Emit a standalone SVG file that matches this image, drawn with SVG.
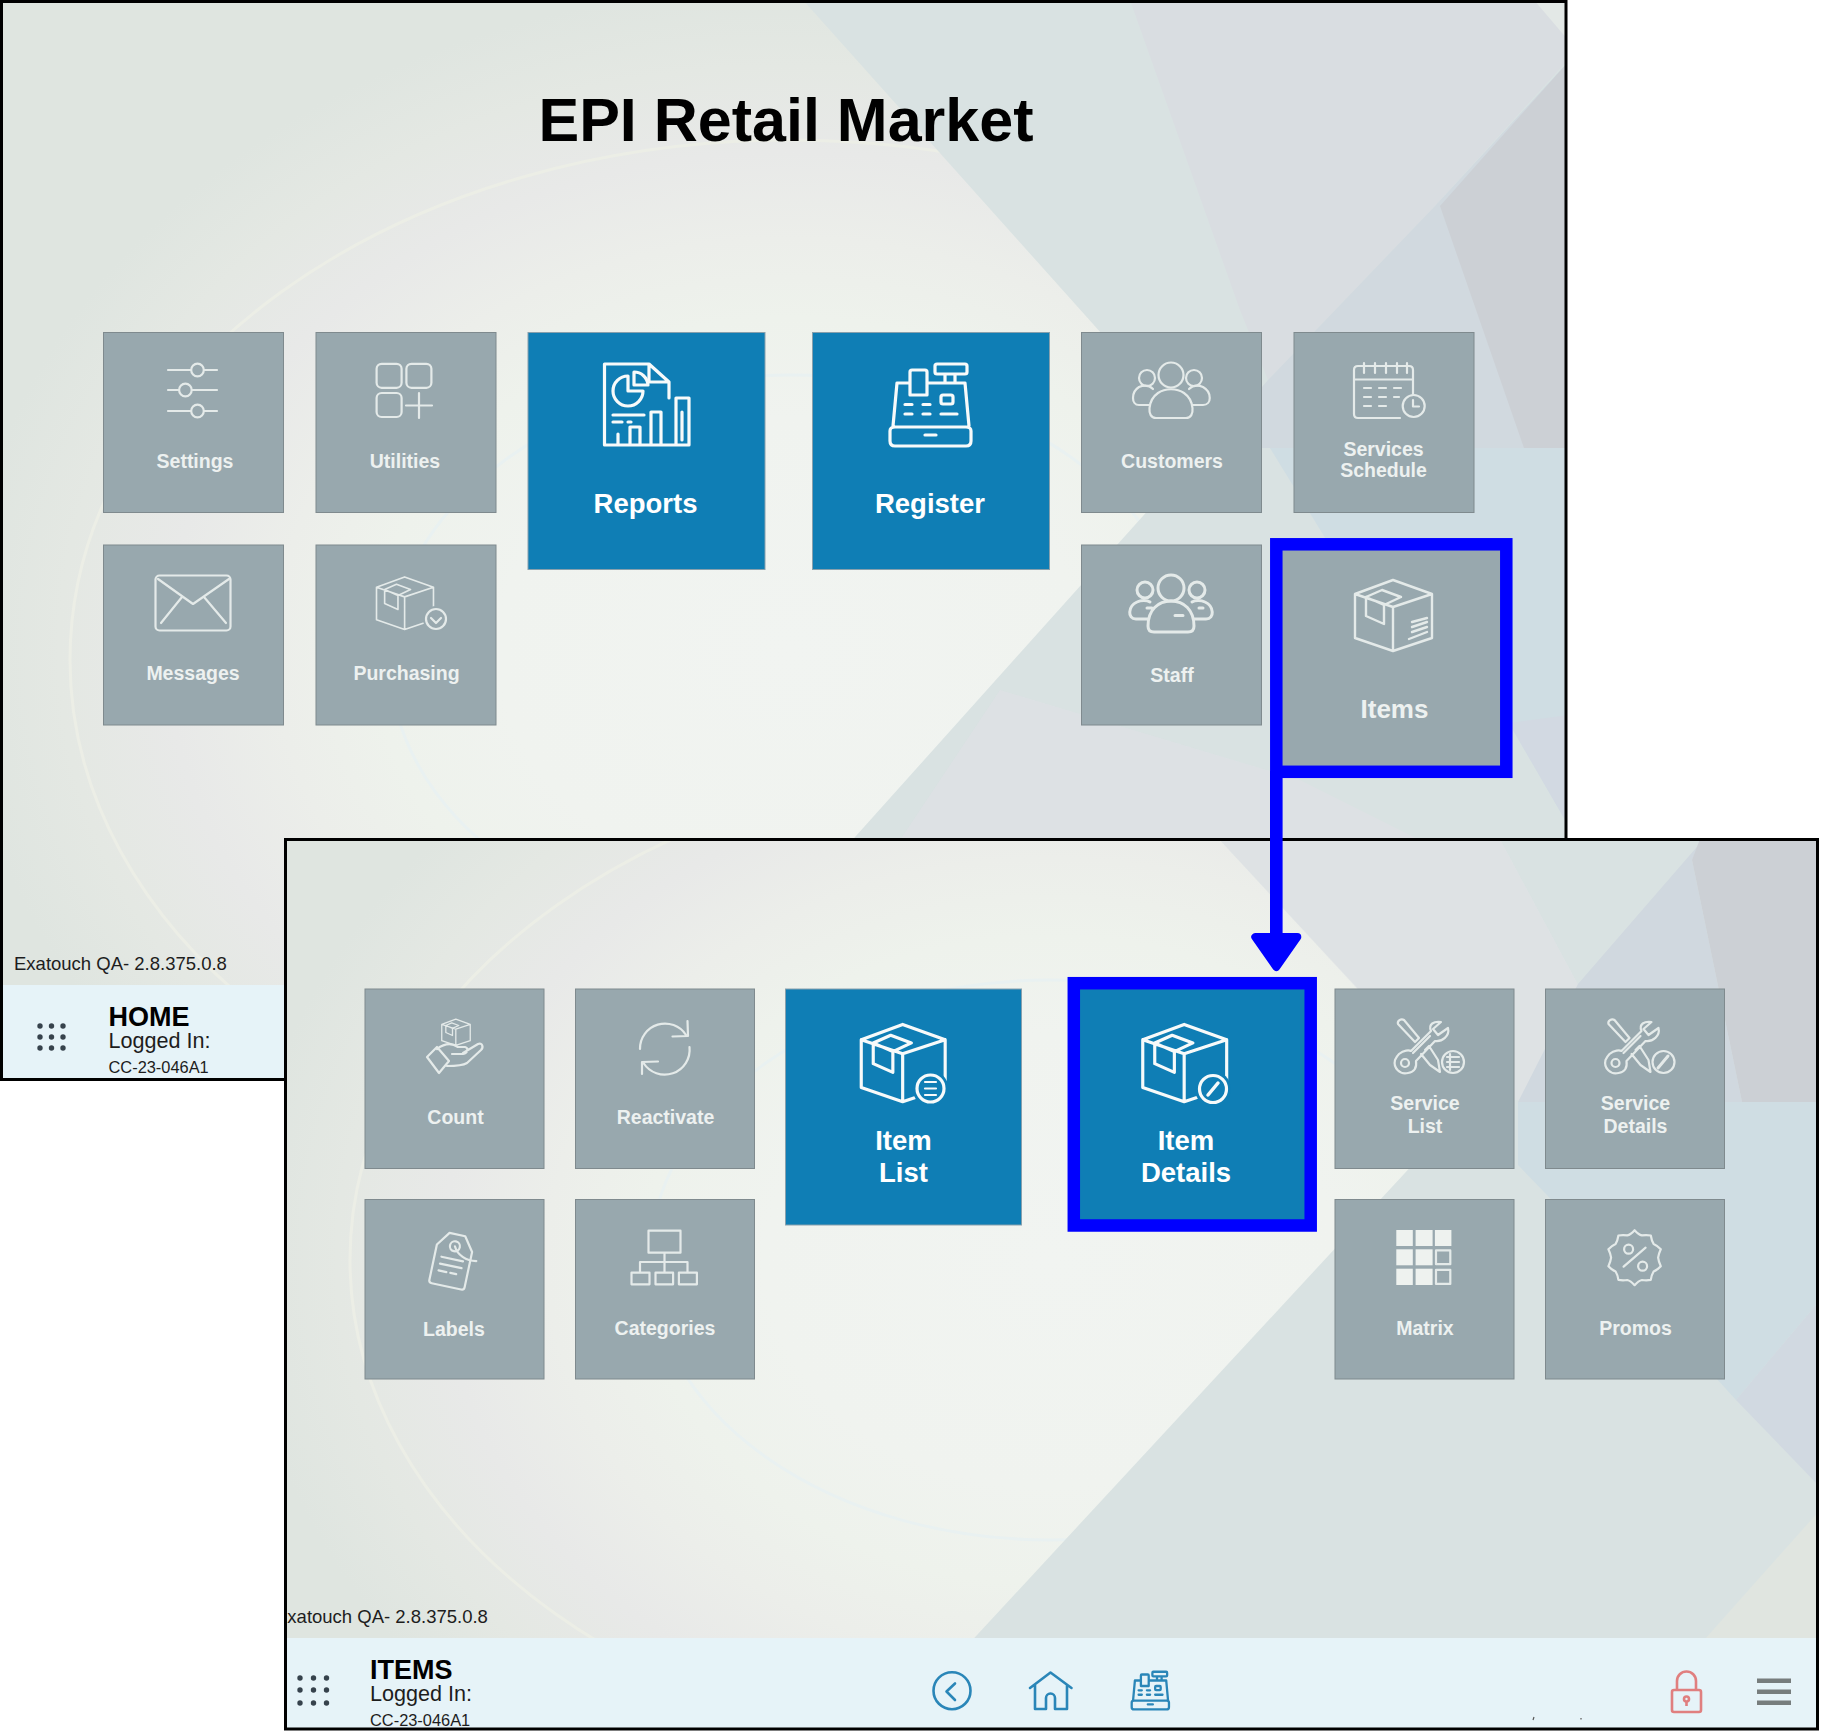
<svg xmlns="http://www.w3.org/2000/svg" width="1822" height="1734" viewBox="0 0 1822 1734">
<style>
text{font-family:"Liberation Sans",Arial,sans-serif}
.g{fill:#98a8ae;stroke:#7f8a8e;stroke-width:1}
.b{fill:#0f7eb5;stroke:#87a0ad;stroke-width:1}
.t{font-weight:700;font-size:19.5px;text-anchor:middle;fill:#edf1f0}
.tb{font-weight:700;font-size:27.5px;text-anchor:middle;fill:#fff}
.ic{fill:none;stroke:#e4eae9;stroke-width:2.2;stroke-linecap:round;stroke-linejoin:round}
.iw{fill:none;stroke:#f7fafa;stroke-width:3.2;stroke-linecap:round;stroke-linejoin:round}
.nav{fill:none;stroke:#2a86b8;stroke-width:2.6;stroke-linecap:round;stroke-linejoin:round}
.frame{fill:none;stroke:#000;stroke-width:3}
.hl{fill:none;stroke:#0000ff;stroke-width:12.5}
.dot{fill:#36424c}
.h{font-weight:700;font-size:27px;fill:#000}
.l{font-size:21.6px;fill:#1d1d1d}
.c{font-size:16.4px;fill:#1d1d1d}
.v{font-size:18.5px;fill:#1d1d1d}
.ring{fill:none;stroke:#e9f1f1;stroke-width:3}
</style>
<defs>
<radialGradient id="bg1" gradientUnits="userSpaceOnUse" cx="790" cy="650" r="830" gradientTransform="translate(0 130) scale(1 .8)">
<stop offset="0" stop-color="#f1f4f1"/><stop offset=".35" stop-color="#f0f3ef"/><stop offset=".5" stop-color="#eef2ec"/><stop offset=".62" stop-color="#eceeea"/><stop offset=".75" stop-color="#e8e9e8"/><stop offset=".88" stop-color="#e4e8e3"/><stop offset="1" stop-color="#dfe5e0"/>
</radialGradient>
<radialGradient id="bg2" gradientUnits="userSpaceOnUse" cx="1050" cy="1260" r="810" gradientTransform="translate(0 252) scale(1 .8)">
<stop offset="0" stop-color="#f1f4f1"/><stop offset=".35" stop-color="#f0f3ef"/><stop offset=".5" stop-color="#eef2ec"/><stop offset=".62" stop-color="#eceeea"/><stop offset=".75" stop-color="#e8e9e8"/><stop offset=".88" stop-color="#e4e8e3"/><stop offset="1" stop-color="#dfe5e0"/>
</radialGradient>
<clipPath id="c1"><rect x="0" y="0" width="1567" height="1080"/></clipPath>
<clipPath id="c2"><rect x="285" y="839" width="1533" height="890"/></clipPath>
<marker id="arr" markerUnits="userSpaceOnUse" markerWidth="60" markerHeight="60" viewBox="0 0 60 60" refX="4" refY="30" orient="auto">
<path d="M4,9 L34,30 L4,51 Z" fill="#0000ff" stroke="#0000ff" stroke-width="8" stroke-linejoin="round"/>
</marker>
<symbol id="box" overflow="visible" viewBox="0 0 130 100" width="130" height="100">
<path d="M63,10 L102,24 V68 L63,81 L25,68 V24 Z M25,24 L63,37 L102,24 M63,37 V81 M36,27 V46 L54,54 V35 M36,27 L52,20 L71,27 L54,35 Z"/>
</symbol>
<symbol id="reg" overflow="visible" viewBox="0 0 120 110" width="120" height="110">
<path d="M25,96 H96 Q101,96 101,91 V81 Q101,77 96,77 H25 Q20,77 20,81 V91 Q20,96 25,96 Z M23,76 L27,33 H40 M57,33 H95 L99,76 M42,20 H55 Q57,20 57,22 V45 H40 V22 Q40,20 42,20 Z M67,14 H95 Q97,14 97,16 V22 Q97,24 95,24 H67 Q65,24 65,22 V16 Q65,14 67,14 Z M75,24 V33 M85,24 V33 M73,45 H81 Q83,45 83,47 V52 Q83,54 81,54 H73 Q71,54 71,52 V47 Q71,45 73,45 Z M35,54.5 H42 M53,54.5 H60 M35,64 H42 M53,64 H60 M71,64 H87 M55,85 H66"/>
</symbol>
<symbol id="tools" overflow="visible" viewBox="0 0 110 90" width="110" height="90">
<path d="M19,54 C24,50 29,50 31,51 L51,31 C48,24 54,21 61,22 L53,29 L58,35 L68,28 C70,36 62,42 55,41 L36,61 C37,68 34,72 28,73 C20,75 13,68 15,60 C16,58 17,56 19,54 Z M33,53 L50,36 M18,24 C17,21 21,18 24,20 L39,38 L35,42 Z M45,50 L49,46 L58,60 L60,72 L50,65 L41,54"/>
<circle cx="25" cy="63" r="4"/>
<circle cx="73" cy="62" r="11"/>
</symbol>
</defs>

<g id="screen-home" clip-path="url(#c1)">
<rect x="0" y="0" width="1567" height="1080" fill="url(#bg1)"/>
<ellipse class="ring" cx="790" cy="660" rx="400" ry="285"/>
<ellipse class="ring" cx="790" cy="660" rx="720" ry="520" style="stroke:#eceee6"/>
<polygon points="803,0 1568,0 1568,1080 637,1080 1204,448" fill="#d9e2e2"/>
<polygon points="1130,0 1568,0 1568,60 1435,206 1268,380 1240,310" fill="#d9dde1"/>
<polygon points="1568,62 1435,206 1268,380 1210,448 1524,448" fill="#d1d9df"/>
<polygon points="1568,62 1440,206 1524,448 1568,448" fill="#ccd0d5"/>
<polygon points="1534,0 1568,0 1568,40" fill="#e3e8e6"/>
<polygon points="1270,448 1568,448 1568,825 1509,723 1400,660" fill="#cfdde3"/>
<polygon points="1509,723 1568,825 1568,715" fill="#d2d9e2"/>
<polygon points="1000,690 1300,780 1420,840 900,840" fill="#dee1e5" opacity=".7"/>
<rect x="0" y="985" width="285" height="95" fill="#e6f3f8"/>
<text x="14" y="970" class="v">Exatouch QA- 2.8.375.0.8</text>
<g class="dot"><circle cx="40" cy="1026" r="2.7"/><circle cx="51.5" cy="1026" r="2.7"/><circle cx="63" cy="1026" r="2.7"/><circle cx="40" cy="1037" r="2.7"/><circle cx="51.5" cy="1037" r="2.7"/><circle cx="63" cy="1037" r="2.7"/><circle cx="40" cy="1048" r="2.7"/><circle cx="51.5" cy="1048" r="2.7"/><circle cx="63" cy="1048" r="2.7"/></g>
<text x="108.500" y="1026" class="h">HOME</text>
<text x="108.500" y="1048" class="l">Logged In:</text>
<text x="108.500" y="1073" class="c">CC-23-046A1</text>
<text x="786" y="141" font-size="61" font-weight="700" text-anchor="middle" fill="#000">EPI Retail Market</text>
</g>
<rect class="frame" x="1.5" y="1.5" width="1564.5" height="1078"/>

<g id="settings"><rect class="g" x="103.5" y="332.5" width="180" height="180"/>
<g class="ic"><path d="M168,370 H191 M204,370 H217 M168,390 H179 M192,390 H217 M168,411 H191 M204,411 H217"/><circle cx="197.5" cy="370" r="6.3"/><circle cx="185.4" cy="390" r="6.3"/><circle cx="197.5" cy="411" r="6.3"/></g>
<text x="195" y="467.500" class="t">Settings</text></g>

<g id="utilities"><rect class="g" x="316" y="332.5" width="180" height="180"/>
<g class="ic"><rect x="376.6" y="363.8" width="25" height="24" rx="5"/><rect x="406.4" y="363.8" width="25" height="24" rx="5"/><rect x="376.6" y="393" width="25" height="24" rx="5"/><path d="M406,405.5 H432 M419,393 V418"/></g>
<text x="405" y="467.500" class="t">Utilities</text></g>

<g id="reports"><rect class="b" x="528" y="332.5" width="237" height="237"/>
<g class="iw"><path d="M669,398 V382 L649,364 H604.5 V445 H689 V398 H676 V445 M649,364 V382 H669 M661,445 V412 H651 V445 M640,445 V427 H630 V445 M618,445 V434"/><path d="M628,376 A15,15 0 1 0 643,391 H628 Z M634,372 A14,14 0 0 1 648,385 H634 Z"/><path d="M613,415 H644 M613,422 H622 M628,422 H631"/><path d="M682,412 V440"/></g>
<text x="645.500" y="512.500" class="tb">Reports</text></g>

<g id="register"><rect class="b" x="812.5" y="332.5" width="237" height="237"/>
<use href="#reg" x="870" y="350" class="iw"/>
<text x="930" y="512.500" class="tb">Register</text></g>

<g id="customers"><rect class="g" x="1081.500" y="332.5" width="180" height="180"/>
<g class="ic"><circle cx="1171" cy="375" r="12.500"/><circle cx="1147" cy="378" r="8"/><circle cx="1194" cy="378" r="8"/><path d="M1156,418 H1186 C1196,418 1194,400 1184,393 C1177,388 1165,388 1158,393 C1148,400 1146,418 1156,418 Z M1149,405 H1139 C1131,405 1131,392 1139,387 C1144,385 1149,385 1153,389 M1193,405 H1203 C1212,405 1212,392 1203,387 C1198,385 1193,385 1189,389"/></g>
<text x="1172" y="467.500" class="t">Customers</text></g>

<g id="services-schedule"><rect class="g" x="1294" y="332.5" width="180" height="180"/>
<g class="ic"><path d="M1400,418 H1358 Q1354,418 1354,414 V370 Q1354,366 1358,366 H1409 Q1413,366 1413,370 V394 M1354,379.500 H1413 M1364,363 V373 M1375,363 V373 M1386,363 V373 M1397,363 V373 M1407,363 V373 M1364,388 H1371 M1379,388 H1386 M1394,388 H1401 M1364,397 H1371 M1379,397 H1386 M1394,397 H1399 M1364,406 H1371 M1379,406 H1386"/><circle cx="1413.700" cy="406" r="11"/><path d="M1413,400 V406.500 H1419"/></g>
<text x="1383.500" y="456" class="t">Services</text><text x="1383.500" y="477" class="t">Schedule</text></g>

<g id="messages"><rect class="g" x="103.5" y="545" width="180" height="180"/>
<g class="ic"><rect x="155.500" y="575.500" width="75" height="55" rx="4"/><path d="M158,579 L193,604 L229,579 M161,623 L182,597 M226,623 L204,597"/></g>
<text x="193" y="680" class="t">Messages</text></g>

<g id="purchasing"><rect class="g" x="316" y="545" width="180" height="180"/>
<use href="#box" transform="translate(358 569.500) scale(.74)" class="ic"/>
<circle cx="436" cy="619" r="13" fill="#98a8ae"/><g class="ic"><circle cx="436" cy="619" r="10"/><path d="M431,618 L436,623 L441,618"/></g>
<text x="406.500" y="680" class="t">Purchasing</text></g>

<g id="staff"><rect class="g" x="1081.500" y="545" width="180" height="180"/>
<g class="ic" style="stroke-width:3"><circle cx="1171" cy="588" r="13"/><circle cx="1145" cy="590" r="8"/><circle cx="1197" cy="590" r="8"/><path d="M1154,632 H1188 Q1194,632 1194,626 C1194,610 1184,601 1171,601 C1158,601 1148,610 1148,626 Q1148,632 1154,632 Z M1148,619 H1136 C1127,619 1128,606 1137,602 C1141,600 1147,600 1150,602 M1194,619 H1206 C1215,619 1214,606 1205,602 C1201,600 1195,600 1192,602 M1175,615.500 H1183 M1147,608 H1152 M1199,608 H1203"/></g>
<text x="1172" y="681.500" class="t">Staff</text></g>

<g id="items"><rect class="g" x="1276" y="544.500" width="230" height="227"/>
<g class="ic" style="stroke-width:2.400"><use href="#box" x="1330" y="570"/><path d="M1412,622 L1427,618 M1412,627 L1427,622 M1412,632 L1427,627 M1409,639 L1427,632"/></g>
<text x="1394.500" y="718" font-size="26" font-weight="700" text-anchor="middle" fill="#edf1f0">Items</text></g>

<g id="screen-items" clip-path="url(#c2)">
<rect x="285" y="839" width="1535" height="891" fill="url(#bg2)"/>
<ellipse class="ring" cx="1050" cy="1260" rx="400" ry="280"/>
<ellipse class="ring" cx="1050" cy="1260" rx="700" ry="500" style="stroke:#eceee6"/>
<polygon points="1219,839 1820,839 1820,1730 889,1730 1467,1106" fill="#d9e2e2"/>
<polygon points="1219,839 1500,839 1640,1100 1460,1100" fill="#dfe3e6" opacity=".7"/>
<polygon points="1702,841 1578,984 1518,1102 1742,1102 1692,860" fill="#d0d8df"/>
<polygon points="1700,839 1820,839 1820,1102 1742,1102 1692,860" fill="#ccd0d5"/>
<polygon points="1518,1102 1820,1102 1820,1300 1736,1400 1600,1250 1518,1165" fill="#cfdde3"/>
<polygon points="1736,1400 1820,1300 1820,1487" fill="#d1d9e1"/>
<polygon points="1705,1639 1820,1510 1820,1639" fill="#e0e5e0"/>
<rect x="285" y="1638" width="1535" height="92" fill="#e6f3f8"/>
<text x="275" y="1623" class="v">Exatouch QA- 2.8.375.0.8</text>
<g class="dot"><circle cx="300" cy="1678" r="2.7"/><circle cx="313.500" cy="1678" r="2.7"/><circle cx="326.500" cy="1678" r="2.7"/><circle cx="300" cy="1690" r="2.7"/><circle cx="313.500" cy="1690" r="2.7"/><circle cx="326.500" cy="1690" r="2.7"/><circle cx="300" cy="1703" r="2.7"/><circle cx="313.500" cy="1703" r="2.7"/><circle cx="326.500" cy="1703" r="2.7"/></g>
<text x="370" y="1679" class="h">ITEMS</text>
<text x="370" y="1701" class="l">Logged In:</text>
<text x="370" y="1726" class="c">CC-23-046A1</text>
<g id="nav-back" class="nav"><circle cx="952" cy="1690.700" r="18.500"/><path d="M955,1683.500 L946.500,1691.500 L955,1700"/></g>
<g id="nav-home" class="nav"><path d="M1030,1688 L1050.500,1672.500 L1071.500,1688 M1035,1685 V1709 H1046 V1698 A4.500,4.500 0 0 1 1055,1698 V1709 H1067 V1685"/></g>
<use id="nav-register" href="#reg" transform="translate(1122.500 1665.300) scale(.46)" class="nav" style="stroke-width:5"/>
<g id="nav-lock" fill="none" stroke="#e07f7f" stroke-width="2.600"><rect x="1672" y="1690" width="29" height="22" rx="2"/><path d="M1677,1690 V1681 A9.500,9.500 0 0 1 1696,1681 V1690"/><circle cx="1686.500" cy="1699" r="2.500"/><path d="M1686.500,1701 V1706"/></g>
<g id="nav-menu" fill="#777d7d"><rect x="1757" y="1678.500" width="34" height="4.500"/><rect x="1757" y="1689.500" width="34" height="4.500"/><rect x="1757" y="1700.500" width="34" height="4.500"/></g>
<path d="M1534,1717 L1533,1720 M1581,1718 V1719.500" stroke="#555" stroke-width="1.200"/>
</g>
<rect class="frame" x="285.500" y="839.500" width="1532" height="889.500"/>

<g id="count"><rect class="g" x="365" y="989" width="179" height="179.500"/>
<use href="#box" transform="translate(432.500 1015.500) scale(.37)" class="ic" style="stroke-width:3.500"/>
<g class="ic"><path d="M427,1057 L437,1047 L449,1061 L439,1073 Z M437,1049 C445,1043 452,1043 458,1047 H465 C469,1048 468,1053 463,1054 H452 M463,1053 L478,1044 C482,1042 484,1047 481,1050 L467,1063 C462,1066 455,1066 447,1066"/></g>
<text x="455.500" y="1124" class="t">Count</text></g>

<g id="reactivate"><rect class="g" x="575.500" y="989" width="179" height="179.500"/>
<g class="ic"><path d="M640,1049 A25,25 0 0 1 686,1035 M687.500,1021 L688,1036 L672.500,1036.500 M689.500,1047 A25,25 0 0 1 643.500,1063 M642,1074 L642,1062 L658,1061.500"/></g>
<text x="665.500" y="1124" class="t">Reactivate</text></g>

<g id="item-list"><rect class="b" x="785.500" y="989" width="236" height="236"/>
<use href="#box" transform="translate(834 1013.500) scale(1.090)" class="iw" style="stroke-width:2.900"/>
<circle cx="930.500" cy="1088.500" r="18" fill="#0f7eb5"/><g class="iw"><circle cx="930.500" cy="1088.500" r="13.500"/><path d="M925,1082 H936 M925,1088.500 H936 M925,1095 H936" style="stroke-width:2.200"/></g>
<text x="903.500" y="1150" class="tb">Item</text><text x="903.500" y="1181.500" class="tb">List</text></g>

<g id="item-details"><rect class="b" x="1074" y="983" width="237" height="243"/>
<use href="#box" transform="translate(1115.500 1013.500) scale(1.090)" class="iw" style="stroke-width:2.900"/>
<circle cx="1213" cy="1089" r="18" fill="#0f7eb5"/><g class="iw"><circle cx="1213" cy="1089" r="13.500"/><path d="M1208,1095 L1218,1083" style="stroke-width:3.500"/></g>
<text x="1186" y="1150" class="tb">Item</text><text x="1186" y="1181.500" class="tb">Details</text></g>

<g id="service-list"><rect class="g" x="1335" y="989" width="179" height="179.500"/>
<use href="#tools" x="1380" y="1000" class="ic"/>
<path class="ic" d="M1447,1057 H1459 M1447,1062 H1459 M1447,1067 H1459 M1450,1054 V1070"/>
<text x="1425" y="1110" class="t">Service</text><text x="1425" y="1132.500" class="t">List</text></g>

<g id="service-details"><rect class="g" x="1545.500" y="989" width="179" height="179.500"/>
<use href="#tools" x="1590.500" y="1000" class="ic"/>
<path class="ic" d="M1658,1068 L1668,1056" style="stroke-width:3"/>
<text x="1635.500" y="1110" class="t">Service</text><text x="1635.500" y="1132.500" class="t">Details</text></g>

<g id="labels"><rect class="g" x="365" y="1199.500" width="179" height="179.500"/>
<g class="ic" transform="rotate(12 452 1260)"><path d="M444,1234 L460,1234 L470,1248 V1284 Q470,1287 467,1287 H437 Q434,1287 434,1284 V1248 Z M441,1259 H463 M441,1266 H463 M441,1273 H449 M453,1273 H459"/><circle cx="452" cy="1246" r="5"/><path d="M452,1246 C456,1254 466,1258 476,1256"/></g>
<text x="454" y="1336" class="t">Labels</text></g>

<g id="categories"><rect class="g" x="575.500" y="1199.500" width="179" height="179.500"/>
<g class="ic"><rect x="648.500" y="1230.700" width="32" height="22"/><path d="M664.500,1253 V1272 M640,1272 V1262 H687.500 V1272"/><rect x="631.500" y="1272.700" width="18" height="11.600"/><rect x="655.500" y="1272.700" width="17.600" height="11.600"/><rect x="678.900" y="1272.700" width="18" height="11.600"/></g>
<text x="665" y="1335" class="t">Categories</text></g>

<g id="matrix"><rect class="g" x="1335" y="1199.500" width="179" height="179.500"/>
<g fill="#eef2ef"><rect x="1396.300" y="1230" width="16.500" height="16"/><rect x="1415.600" y="1230" width="17" height="16"/><rect x="1434.900" y="1230" width="16.500" height="16"/><rect x="1396.300" y="1249.300" width="16.500" height="16"/><rect x="1415.600" y="1249.300" width="17" height="16"/><rect x="1396.300" y="1268.700" width="16.500" height="16.300"/><rect x="1415.600" y="1268.700" width="17" height="16.300"/></g>
<g class="ic"><rect x="1436" y="1250.400" width="14.300" height="13.800"/><rect x="1436" y="1269.800" width="14.300" height="14.100"/></g>
<text x="1425" y="1335" class="t">Matrix</text></g>

<g id="promos"><rect class="g" x="1545.500" y="1199.500" width="179" height="179.500"/>
<g class="ic" transform="translate(1634.600 1257.700)"><path d="M0,-27.500 Q4,-23 7.300,-22.300 Q12,-23 16.200,-22.200 Q17,-17 19,-13.800 Q23,-12 26.200,-8.500 Q24,-4 23.500,0 Q24,4 26.200,8.500 Q23,12 19,13.800 Q17,17 16.200,22.200 Q12,23 7.300,22.300 Q4,23 0,27.500 Q-4,23 -7.300,22.300 Q-12,23 -16.200,22.200 Q-17,17 -19,13.800 Q-23,12 -26.200,8.500 Q-24,4 -23.500,0 Q-24,-4 -26.200,-8.500 Q-23,-12 -19,-13.800 Q-17,-17 -16.200,-22.200 Q-12,-23 -7.300,-22.300 Q-4,-23 0,-27.500 Z"/><circle cx="-6" cy="-8.500" r="4.500"/><circle cx="8" cy="8.500" r="4.500"/><path d="M-11,9 L11,-10"/></g>
<text x="1635.500" y="1335" class="t">Promos</text></g>

<g id="connectors">
<rect class="hl" x="1276.300" y="544.300" width="230" height="227.500"/>
<rect class="hl" x="1073.800" y="983.200" width="236.900" height="242.300"/>
<path d="M1276.300,771 V937" fill="none" stroke="#0000ff" stroke-width="12.600" marker-end="url(#arr)"/>
</g>
</svg>
